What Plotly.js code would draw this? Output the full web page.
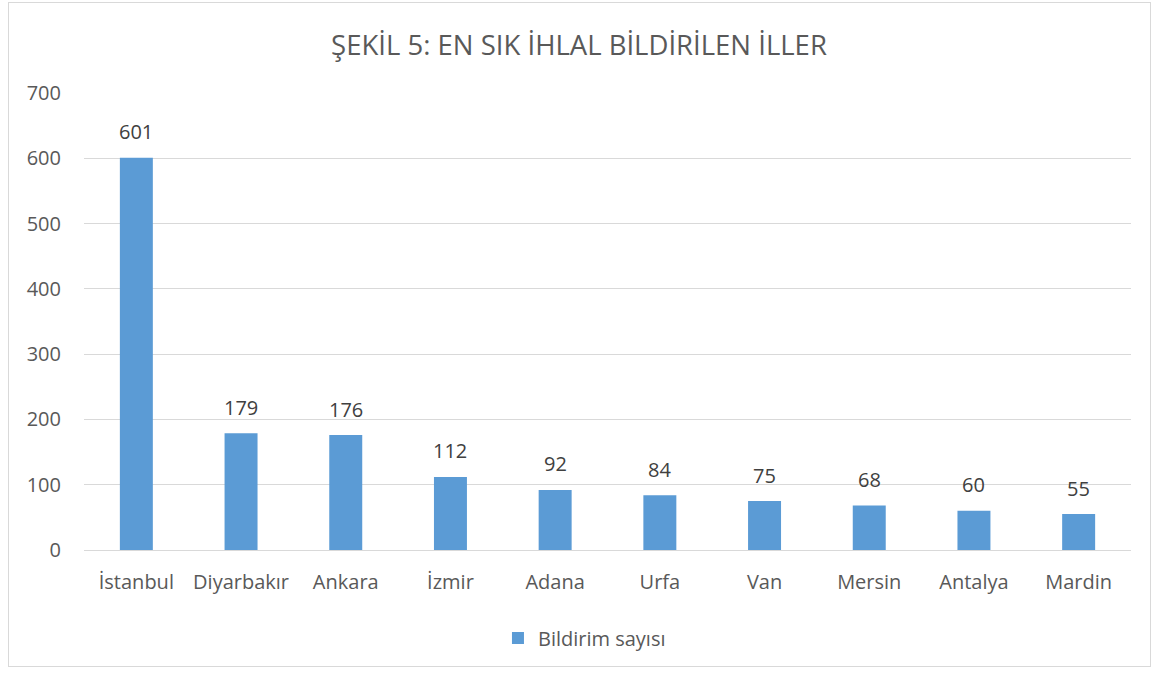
<!DOCTYPE html>
<html><head><meta charset="utf-8">
<script src="https://cdn.plot.ly/plotly-3.0.1.min.js"></script>
<style>
html,body{margin:0;padding:0;background:#fff;}
#wrap{position:relative;width:1158px;height:675px;}
#chart{position:absolute;left:0;top:0;width:1158px;height:675px;}
#frame{position:absolute;left:8px;top:2px;width:1141px;height:663px;border:1px solid #d9d9d9;pointer-events:none;}
</style></head>
<body><div id="wrap"><div id="chart"></div><div id="frame"></div></div>
<script>
const categories = ["İstanbul","Diyarbakır","Ankara","İzmir","Adana","Urfa","Van","Mersin","Antalya","Mardin"];
const values = [601,179,176,112,92,84,75,68,60,55];
const seriesName = "Bildirim sayısı";
const yTicks = [0,100,200,300,400,500,600,700];

const font = "Open Sans, Noto Sans, sans-serif";
const labels = categories.map((c, i) => ({
  x: c, y: values[i], xref: "x", yref: "y", text: String(values[i]),
  showarrow: false, yanchor: "middle", yshift: 26,
  font: {family: font, size: 20, color: "#404040"}
}));
Plotly.newPlot("chart", [{
  type: "bar",
  x: categories,
  y: values,
  name: seriesName,
  marker: {color: "#5b9bd5"},
  hoverinfo: "x+y"
}], {
  width: 1158, height: 675,
  margin: {l: 84, r: 27, t: 93, b: 125},
  paper_bgcolor: "#fff", plot_bgcolor: "#fff",
  bargap: 0.685,
  showlegend: true,
  legend: {orientation: "h", x: 0.478, xanchor: "center", y: -0.15, yanchor: "top",
           itemwidth: 30,
           font: {family: font, size: 20, color: "#595959"}},
  annotations: labels,
  title: {text: "ŞEKİL 5: EN SIK İHLAL BİLDİRİLEN İLLER", x: 0.5, xanchor: "center",
          y: 0.933, yanchor: "middle", font: {family: font, size: 27.5, color: "#595959"}},
  xaxis: {tickfont: {family: font, size: 20, color: "#595959"}, showline: true,
          linecolor: "#d9d9d9", ticks: "", fixedrange: true, ticklabelstandoff: 14},
  yaxis: {range: [0, 700], tickvals: yTicks, tickfont: {family: font, size: 20, color: "#595959"},
          gridcolor: "#d9d9d9", showline: false, zeroline: false, ticks: "", ticklen: 0,
          ticklabelstandoff: 22}
}, {displayModeBar: false});
</script></body></html>
